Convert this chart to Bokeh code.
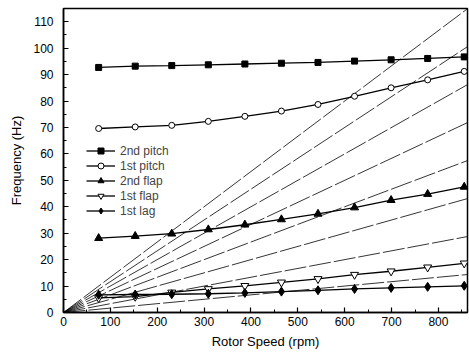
from bokeh.plotting import figure
from bokeh.models import Range1d, Legend, LegendItem, SingleIntervalTicker
from bokeh.embed import file_html
from bokeh.resources import INLINE

rpm = [75, 153, 231, 309, 387, 465, 543, 621, 699, 777, 855]
pitch2 = [92.7, 93.2, 93.4, 93.7, 94.0, 94.3, 94.6, 95.1, 95.6, 96.1, 96.7]
pitch1 = [69.6, 70.2, 70.8, 72.3, 74.2, 76.2, 78.7, 81.8, 85.0, 88.0, 91.2]
flap2 = [28.1, 28.9, 29.8, 31.4, 33.2, 35.2, 37.3, 39.7, 42.5, 44.8, 47.5]
flap1 = [5.5, 6.0, 7.6, 8.9, 10.1, 11.4, 12.7, 14.3, 15.6, 17.1, 18.6]
lag1 = [6.7, 6.8, 6.9, 7.1, 7.4, 7.9, 8.4, 8.9, 9.3, 9.7, 10.1]
orders = [1, 2, 3, 4, 5, 6, 7, 8]
x_max = 862
y_max = 115

FONT = "Liberation Sans"

p = figure(width=469, height=358, output_backend="svg", toolbar_location=None,
           x_range=Range1d(0, x_max), y_range=Range1d(0, y_max),
           min_border_left=63, min_border_right=2, min_border_top=8, min_border_bottom=46)
p.grid.visible = False
p.background_fill_color = "white"
p.outline_line_color = "black"
p.outline_line_width = 1.5

# per-rev excitation lines
for n in orders:
    p.line([0, x_max], [0, n * x_max / 60.0], line_color="black", line_width=0.8,
           line_dash="22 3")

series = [
    ("2nd pitch", pitch2, "square", "black", 6),
    ("1st pitch", pitch1, "circle", "white", 6),
    ("2nd flap", flap2, "triangle", "black", 8),
    ("1st flap", flap1, "inverted_triangle", "white", 8),
    ("1st lag", lag1, "diamond", "black", 9),
]
items = []
for label, ys, marker, fill, sz in series:
    ln = p.line(rpm, ys, line_color="black", line_width=1.3)
    sc = p.scatter(rpm, ys, marker=marker, size=sz, fill_color=fill,
                   line_color="black", line_width=1)
    items.append(LegendItem(label=label, renderers=[ln, sc]))

legend = Legend(items=items, location=(23, 94), padding=0, spacing=0,
                glyph_width=29, glyph_height=15, label_height=15,
                label_standoff=5, border_line_color=None,
                background_fill_alpha=0, label_text_font=FONT,
                label_text_font_size="12px", margin=0)
p.add_layout(legend, "center")

p.xaxis.ticker = SingleIntervalTicker(interval=100, num_minor_ticks=2)
p.yaxis.ticker = SingleIntervalTicker(interval=10, num_minor_ticks=2)
for ax in (p.xaxis[0], p.yaxis[0]):
    ax.axis_line_width = 1.5
    ax.major_tick_in = 5
    ax.major_tick_out = 0
    ax.minor_tick_in = 3
    ax.minor_tick_out = 0
    ax.major_tick_line_width = 1.2
    ax.major_label_text_font = FONT
    ax.major_label_text_font_size = "12px"
    ax.major_label_text_color = "black"
    ax.axis_label_text_font = FONT
    ax.axis_label_text_font_size = "13px"
    ax.axis_label_text_font_style = "normal"
    ax.axis_label_text_color = "black"

p.xaxis.axis_label = "Rotor Speed (rpm)"
p.yaxis.axis_label = "Frequency (Hz)"
p.xaxis.major_label_standoff = 4
p.xaxis.axis_label_standoff = 5
p.yaxis.major_label_standoff = 10
p.yaxis.axis_label_standoff = 6

open("out.html", "w").write(file_html(p, INLINE))
